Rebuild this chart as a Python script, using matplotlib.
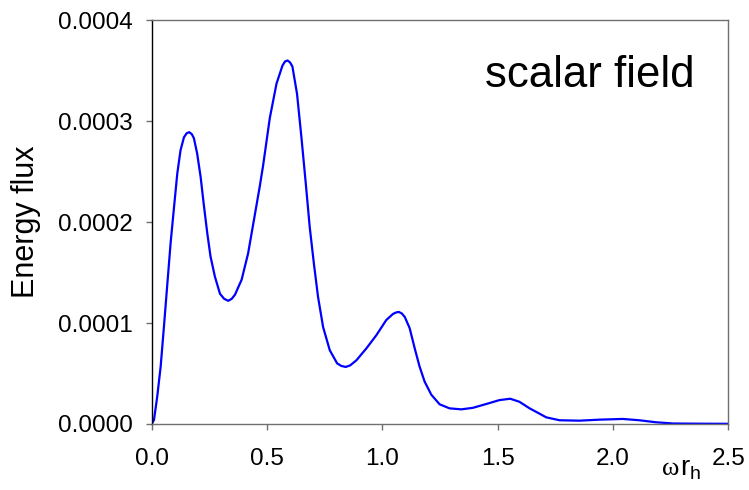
import numpy as np
import matplotlib
matplotlib.use("Agg")
import matplotlib.pyplot as plt

plt.rcParams["font.family"] = ["Liberation Sans", "DejaVu Sans"]

# curve (omega*r_h, energy flux)
omega_rh = [0.0, 0.010, 0.024, 0.039, 0.053, 0.068, 0.082, 0.097, 0.111, 0.125,
            0.140, 0.152, 0.163, 0.174, 0.183, 0.197, 0.212, 0.226, 0.241, 0.255,
            0.274, 0.296, 0.314, 0.332, 0.347, 0.361, 0.390, 0.418, 0.447, 0.469,
            0.483, 0.512, 0.541, 0.567, 0.578, 0.589, 0.600, 0.610, 0.630, 0.649,
            0.668, 0.685, 0.703, 0.721, 0.743, 0.772, 0.804, 0.822, 0.841, 0.860,
            0.887, 0.931, 0.974, 1.017, 1.046, 1.060, 1.071, 1.084, 1.097, 1.118,
            1.140, 1.161, 1.183, 1.212, 1.248, 1.291, 1.342, 1.392, 1.450, 1.508,
            1.554, 1.594, 1.638, 1.678, 1.710, 1.768, 1.854, 1.941, 2.042, 2.114,
            2.186, 2.26, 2.38, 2.5]
flux = [0.0, 4.0e-6, 2.7e-5, 5.7e-5, 9.6e-5, 1.39e-4, 1.79e-4, 2.15e-4, 2.48e-4, 2.71e-4,
        2.84e-4, 2.88e-4, 2.89e-4, 2.87e-4, 2.83e-4, 2.68e-4, 2.45e-4, 2.17e-4, 1.89e-4, 1.66e-4,
        1.46e-4, 1.29e-4, 1.24e-4, 1.22e-4, 1.24e-4, 1.28e-4, 1.43e-4, 1.69e-4, 2.07e-4, 2.36e-4,
        2.56e-4, 3.03e-4, 3.37e-4, 3.55e-4, 3.59e-4, 3.60e-4, 3.58e-4, 3.54e-4, 3.27e-4, 2.84e-4,
        2.38e-4, 1.95e-4, 1.59e-4, 1.26e-4, 9.6e-5, 7.3e-5, 6.0e-5, 5.75e-5, 5.65e-5, 5.8e-5,
        6.3e-5, 7.5e-5, 8.8e-5, 1.03e-4, 1.09e-4, 1.105e-4, 1.11e-4, 1.095e-4, 1.06e-4, 9.5e-5,
        7.5e-5, 5.7e-5, 4.2e-5, 2.9e-5, 1.95e-5, 1.55e-5, 1.45e-5, 1.6e-5, 1.98e-5, 2.37e-5,
        2.5e-5, 2.2e-5, 1.55e-5, 1.06e-5, 6.6e-6, 3.7e-6, 3.3e-6, 4.3e-6, 5.0e-6, 3.7e-6,
        1.7e-6, 5e-7, 3e-7, 2e-7]

x_ticks = [0.0, 0.5, 1.0, 1.5, 2.0, 2.5]
y_ticks = [0.0, 0.0001, 0.0002, 0.0003, 0.0004]

fig = plt.figure(figsize=(7.49, 4.90), dpi=100)
ax = fig.add_axes([0.2025, 0.1347, 0.7701, 0.8243])

ax.plot(omega_rh, flux, color="#0000ff", lw=1.6, solid_joinstyle="round")

ax.set_xlim(0, 2.5)
ax.set_ylim(0, 0.0004)
ax.set_xticks(x_ticks)
ax.set_xticklabels([f"{v:.1f}" for v in x_ticks])
ax.set_yticks(y_ticks)
ax.set_yticklabels([f"{v:.4f}" for v in y_ticks])

grey = "#707070"
for side in ["top", "right", "bottom"]:
    ax.spines[side].set_color(grey)
ax.spines["left"].set_color("black")
for s in ax.spines.values():
    s.set_linewidth(1.0)
ax.tick_params(axis="both", direction="out", length=4.5, width=1.0, color=grey,
               labelsize=17.5)
ax.tick_params(axis="x", pad=13)
ax.tick_params(axis="y", pad=9)

ax.set_ylabel("Energy flux", fontsize=22, labelpad=12)

# x axis label: omega r_h placed next to the last tick
fig.text(0.884, 0.031, "ω", fontsize=19, family="Liberation Serif", ha="left", va="baseline")
fig.text(0.9075, 0.031, r"r$_\mathregular{h}$", fontsize=20, ha="left", va="baseline")

ax.text(0.9416, 0.834, "scalar field", transform=ax.transAxes, fontsize=31.5,
        ha="right", va="baseline")

fig.savefig("out.png", dpi=100)
